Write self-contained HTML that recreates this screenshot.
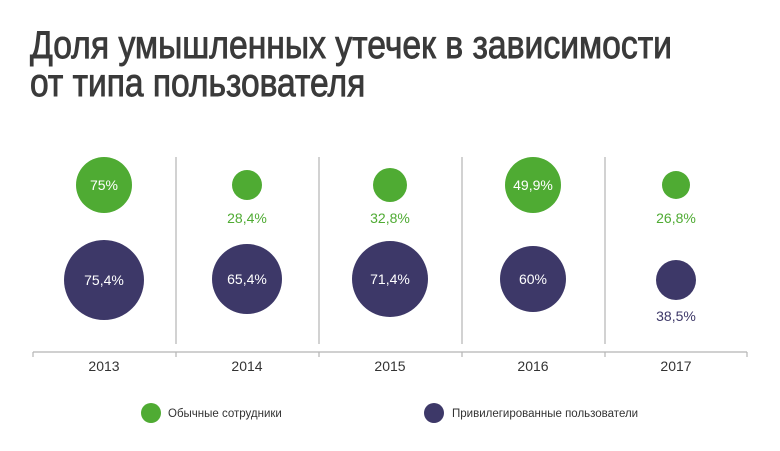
<!DOCTYPE html>
<html><head><meta charset="utf-8"><style>
html,body{margin:0;padding:0;background:#fff;}
svg{display:block;}
text{font-family:"Liberation Sans","DejaVu Sans",sans-serif;}
</style></head><body>
<svg width="780" height="451" viewBox="0 0 780 451">
<g transform="translate(30,0) scale(0.75,1)" fill="#3a3a3a" stroke="#3a3a3a" stroke-width="0.9" font-size="39">
<text x="0" y="58" textLength="856" lengthAdjust="spacingAndGlyphs">Доля умышленных утечек в зависимости</text>
<text x="0" y="96" textLength="447" lengthAdjust="spacingAndGlyphs">от типа пользователя</text>
</g>
<g stroke="#b5b5b5" stroke-width="1.2">
<line x1="176" y1="157" x2="176" y2="344"/><line x1="319" y1="157" x2="319" y2="344"/>
<line x1="462" y1="157" x2="462" y2="344"/><line x1="605" y1="157" x2="605" y2="344"/>
<line x1="33" y1="352" x2="747" y2="352"/>
<line x1="33" y1="352" x2="33" y2="357"/><line x1="176" y1="352" x2="176" y2="357"/>
<line x1="319" y1="352" x2="319" y2="357"/><line x1="462" y1="352" x2="462" y2="357"/>
<line x1="605" y1="352" x2="605" y2="357"/><line x1="747" y1="352" x2="747" y2="357"/>
</g>
<g fill="#4fab33">
<circle cx="104" cy="185" r="28"/><circle cx="247" cy="185" r="15"/><circle cx="390" cy="185" r="17"/>
<circle cx="533" cy="185" r="28"/><circle cx="676" cy="185" r="14"/>
<circle cx="151" cy="413" r="10"/>
</g>
<g fill="#3d3868">
<circle cx="104" cy="280" r="40"/><circle cx="247" cy="279" r="35"/><circle cx="390" cy="279" r="38"/>
<circle cx="533" cy="279" r="33"/><circle cx="676" cy="280" r="20"/>
<circle cx="434" cy="413" r="10"/>
</g>
<g font-size="14" text-anchor="middle">
<g fill="#fff">
<text x="104" y="190">75%</text><text x="533" y="190">49,9%</text>
<text x="104" y="285">75,4%</text><text x="247" y="284">65,4%</text><text x="390" y="284">71,4%</text><text x="533" y="284">60%</text>
</g>
<g fill="#4fab33"><text x="247" y="223">28,4%</text><text x="390" y="223">32,8%</text><text x="676" y="223">26,8%</text></g>
<text x="676" y="321" fill="#3d3868">38,5%</text>
<g fill="#333"><text x="104" y="371">2013</text><text x="247" y="371">2014</text><text x="390" y="371">2015</text><text x="533" y="371">2016</text><text x="676" y="371">2017</text></g>
</g>
<g font-size="11.5" fill="#333">
<text x="168" y="417">Обычные сотрудники</text>
<text x="452" y="417">Привилегированные пользователи</text>
</g>
</svg>
</body></html>
